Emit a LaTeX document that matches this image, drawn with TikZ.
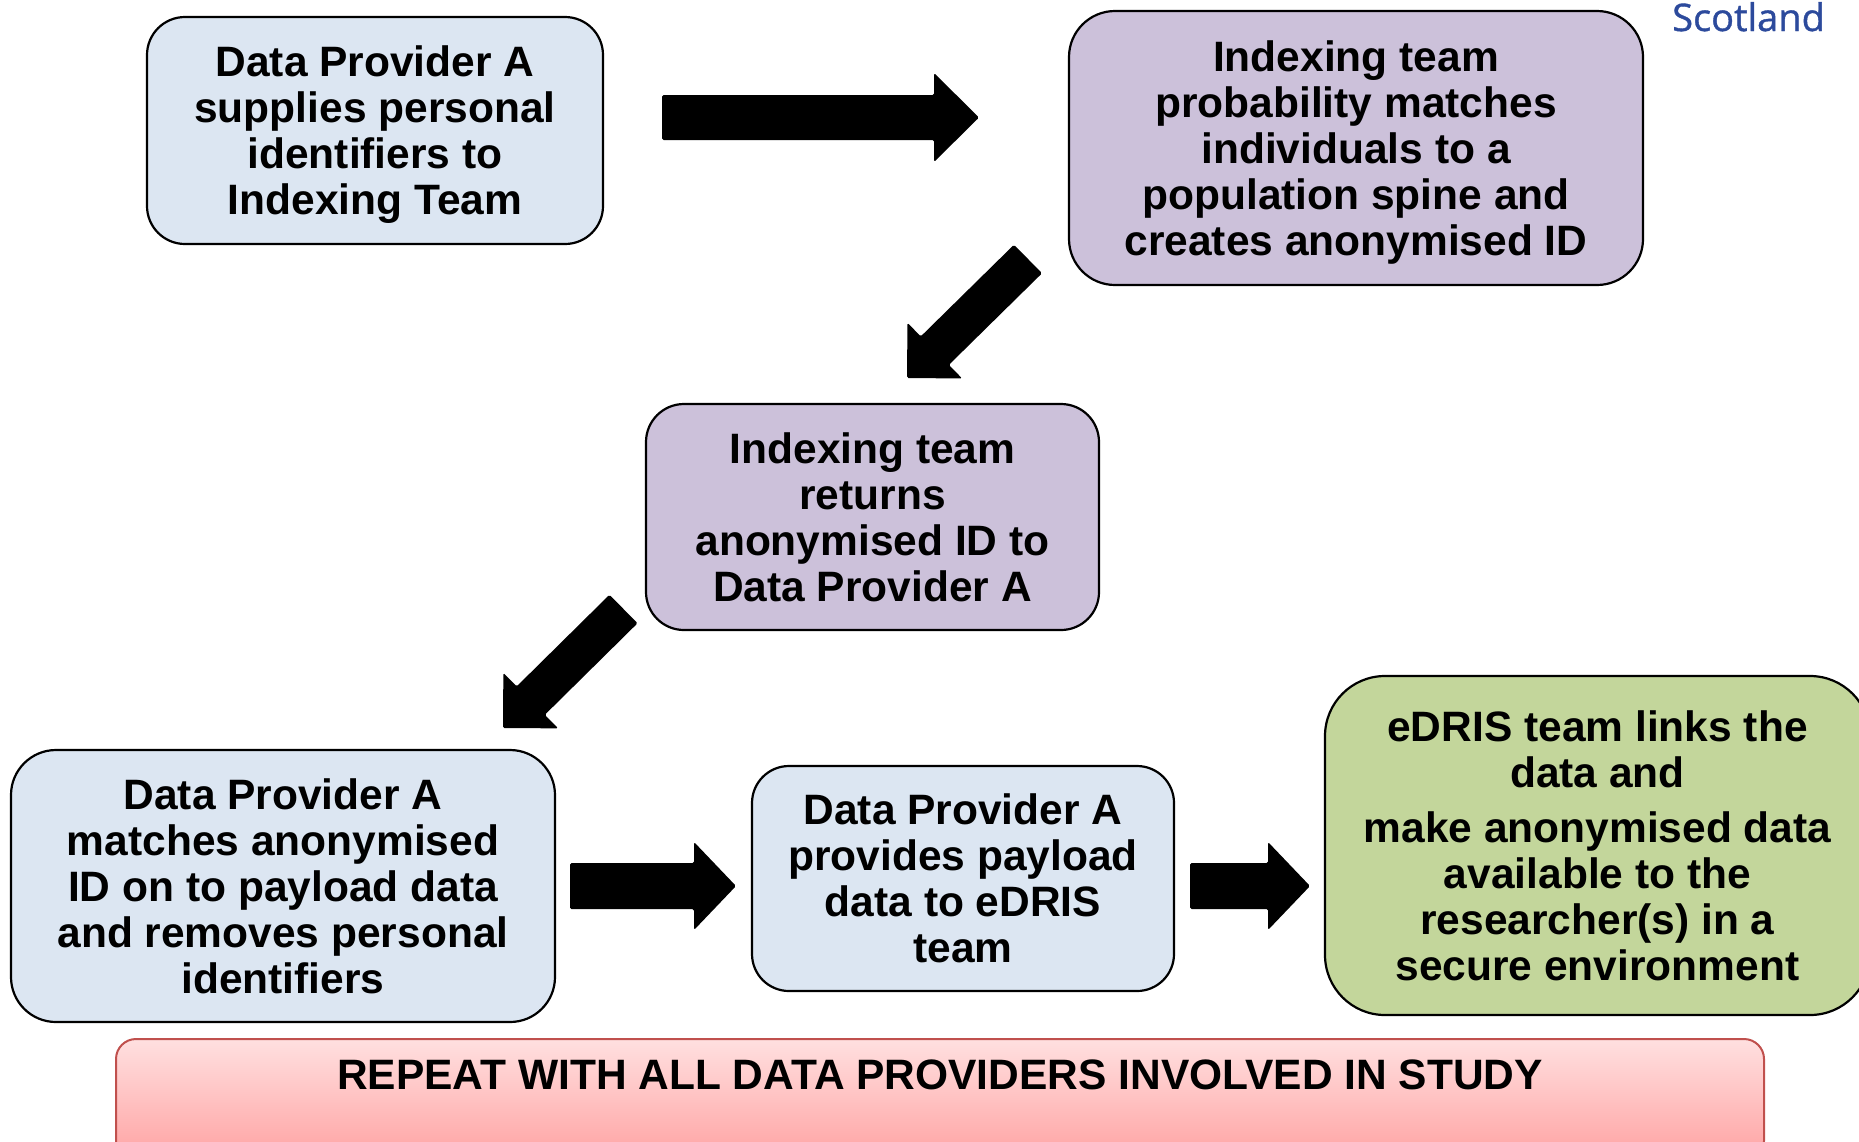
\documentclass[tikz,border=0pt]{standalone}
\usepackage{fontspec}
\setmainfont{Liberation Sans}
\newfontfamily\scotfont{Open Sans}[FakeBold=1]
\usetikzlibrary{calc}

\definecolor{boxblue}{HTML}{DCE6F2}
\definecolor{boxpurple}{HTML}{CCC1DA}
\definecolor{boxgreen}{HTML}{C3D69B}
\definecolor{bannertop}{HTML}{FFE0E0}
\definecolor{bannerbot}{HTML}{FFA2A2}
\definecolor{bannerline}{HTML}{C0504D}
\definecolor{scotblue}{HTML}{2C4A9C}

\newcommand\topstrut{\rule{0pt}{40pt}}

\tikzset{
  stepbox/.style={draw=black, line width=2.2pt, rounded corners=#1, inner sep=0pt,
    align=center, text=black, font=\fontsize{42.5}{46}\selectfont\bfseries,
    execute at end node={\rule[-10pt]{0pt}{10pt}}},
  arrowfill/.style={fill=black, rounded corners=1.5pt},
  banner/.style={draw=bannerline, line width=2pt, rounded corners=20pt,
    top color=bannertop, bottom color=bannerbot, inner xsep=0pt, inner ysep=20pt,
    text height=30pt, text depth=52pt, font=\fontsize{42.5}{46}\selectfont\bfseries}
}

% #1 start coordinate, #2 tip coordinate, #3 half shaft width, #4 half head width, #5 head length
\newcommand\blockarrow[5]{%
  \coordinate (hb-#1) at ($(#2)!#5!(#1)$);
  \fill[arrowfill] ($(#1)!#3!90:(#2)$) -- ($(hb-#1)!#3!-90:(#1)$) -- ($(hb-#1)!#4!-90:(#1)$)
    -- (#2) -- ($(hb-#1)!#4!90:(#1)$) -- ($(hb-#1)!#3!90:(#1)$) -- ($(#1)!#3!-90:(#2)$) -- cycle;
}

\begin{document}
\begin{tikzpicture}[x=1pt, y=-1pt]
\useasboundingbox (0,0) rectangle (1859,1141);
\clip (0,0) rectangle (1859,1141);

% boxes
\node[stepbox=38pt, fill=boxblue, minimum width=456pt, minimum height=227pt] (b1) at (375,130.5)
  {\topstrut Data Provider A\\supplies personal\\identifiers to\\Indexing Team};
\node[stepbox=46pt, fill=boxpurple, minimum width=574pt, minimum height=274pt] (b2) at (1356,148)
  {\topstrut Indexing team\\probability matches\\individuals to a\\population spine and\\creates anonymised ID};
\node[stepbox=38pt, fill=boxpurple, minimum width=453pt, minimum height=226pt] (b3) at (872.5,517)
  {\topstrut Indexing team\\returns\\anonymised ID to\\Data Provider A};
\node[stepbox=45pt, fill=boxblue, minimum width=544pt, minimum height=272pt] (b4) at (283,886)
  {\topstrut Data Provider A\\matches anonymised\\ID on to payload data\\and removes personal\\identifiers};
\node[stepbox=37pt, fill=boxblue, minimum width=422pt, minimum height=225pt] (b5) at (963,878.5)
  {\topstrut Data Provider A\\provides payload\\data to eDRIS\\team};
\node[stepbox=60pt, fill=boxgreen, minimum width=545pt, minimum height=339pt] (b6) at (1597.5,845.5)
  {\topstrut eDRIS team links the\\data and\\[9pt]make anonymised data\\available to the\\researcher(s) in a\\secure environment};

% banner
\node[banner, minimum width=1648pt, anchor=north] (rep) at (940,1038)
  {REPEAT WITH ALL DATA PROVIDERS INVOLVED IN STUDY};

% logo text
\node[anchor=base west, inner sep=0pt, text=scotblue, font=\scotfont\fontsize{38}{40}\selectfont] (scot) at (1672,31) {Scotland};

% block arrows
\coordinate (a1s) at (662,117.5);  \coordinate (a1e) at (979,117.5);
\coordinate (a2s) at (1028,259);   \coordinate (a2e) at (907,378);
\coordinate (a3s) at (623.5,609);  \coordinate (a3e) at (503,728);
\coordinate (a4s) at (570,886);    \coordinate (a4e) at (736,886);
\coordinate (a5s) at (1190,886);   \coordinate (a5e) at (1310,886);

\blockarrow{a1s}{a1e}{22.5pt}{44.5pt}{45pt}
\blockarrow{a2s}{a2e}{20pt}{39pt}{39pt}
\blockarrow{a3s}{a3e}{20pt}{39pt}{39pt}
\blockarrow{a4s}{a4e}{23pt}{44pt}{42pt}
\blockarrow{a5s}{a5e}{23pt}{44pt}{42pt}
\end{tikzpicture}
\end{document}
